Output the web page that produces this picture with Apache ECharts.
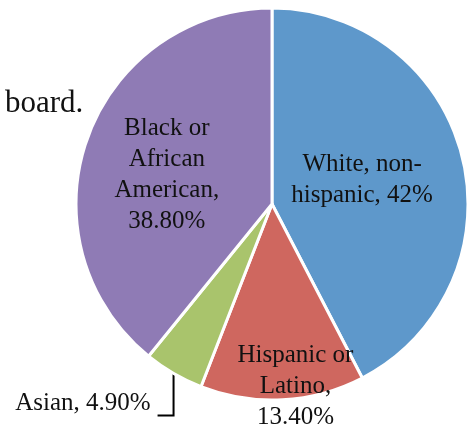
<!DOCTYPE html>
<html>
<head>
<meta charset="utf-8">
<script src="https://cdn.jsdelivr.net/npm/echarts@6/dist/echarts.min.js"></script>
<style>html,body{margin:0;padding:0;background:#fff}#c{width:472px;height:427px}</style>
</head>
<body>
<div id="c"></div>
<script>
var categories = ['White, non-hispanic', 'Hispanic or Latino', 'Asian', 'Black or African American'];
var values = [42, 13.4, 4.9, 38.8];
var labelTemplates = ['White, non-\nhispanic, {v}', 'Hispanic or\nLatino,\n{v}', 'Asian, {v}', 'Black or\nAfrican\nAmerican,\n{v}'];
var colors = ['#5e98cb', '#cf675f', '#a9c46c', '#8f7bb5'];
var cutText = 'board.';

function fmt(v) { return (v === Math.round(v) ? String(v) : v.toFixed(2)) + '%'; }

var FONT = '"Liberation Serif", "DejaVu Serif", serif';
var chart = echarts.init(document.getElementById('c'), null, {renderer: 'canvas'});
var data = categories.map(function (c, i) {
  var item = {name: c, value: values[i], itemStyle: {color: colors[i]}};
  if (i === 2) {
    item.label = {position: 'outside'};
    item.labelLine = {show: true, length: 30, length2: 16, lineStyle: {color: '#000', width: 2}};
  }
  return item;
});
var shifts = [[-8, 0], [18, 82], null, [-10, 5]];
chart.setOption({
  animation: false,
  graphic: [{type: 'text', left: 5, top: 88, style: {text: cutText, font: '31px ' + FONT, fill: '#111'}}],
  series: [{
    type: 'pie',
    center: [272, 204],
    radius: [0, 196],
    startAngle: 90,
    clockwise: true,
    avoidLabelOverlap: false,
    itemStyle: {borderColor: '#fff', borderWidth: 3},
    label: {
      show: true,
      position: 'inside',
      color: '#111',
      fontFamily: FONT,
      fontSize: 25,
      lineHeight: 31,
      align: 'center',
      formatter: function (p) { return labelTemplates[p.dataIndex].replace('{v}', fmt(p.value)); }
    },
    labelLine: {show: false},
    labelLayout: function (p) {
      if (p.dataIndex === 2 && p.labelLinePoints) {
        var p0 = p.labelLinePoints[0];
        var yb = p0[1] + 42;
        return {
          x: p0[0] - 23, y: yb + 3, align: 'right', verticalAlign: 'bottom',
          labelLinePoints: [[p0[0], p0[1]], [p0[0], yb], [p0[0] - 16, yb]]
        };
      }
      var s = shifts[p.dataIndex];
      return s ? {dx: s[0], dy: s[1]} : {};
    },
    emphasis: {disabled: true},
    data: data
  }]
});
</script>
</body>
</html>
